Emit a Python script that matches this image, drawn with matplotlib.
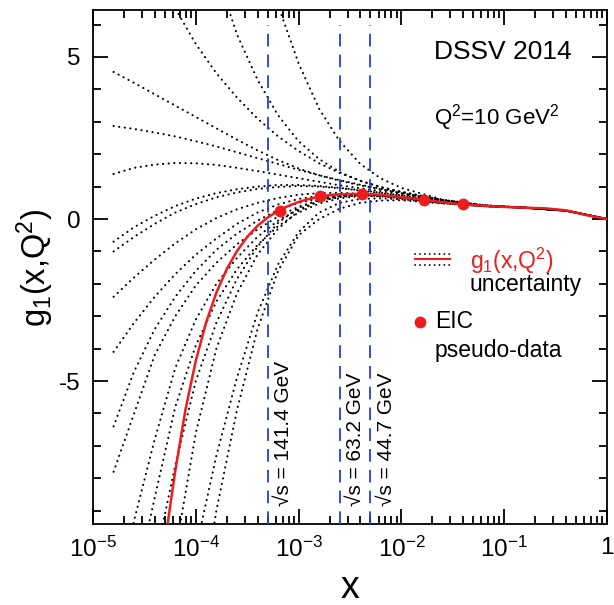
import numpy as np
import matplotlib
matplotlib.use("Agg")
import matplotlib.pyplot as plt
from matplotlib.ticker import MultipleLocator, LogLocator, NullFormatter

plt.rcParams['font.family'] = ['Liberation Sans', 'DejaVu Sans']
plt.rcParams['mathtext.fontset'] = 'custom'
plt.rcParams['mathtext.rm'] = 'Liberation Sans'
plt.rcParams['mathtext.it'] = 'Liberation Sans:italic'
plt.rcParams['mathtext.default'] = 'regular'
plt.rcParams['axes.unicode_minus'] = False

grid_logx = [-4.8, -4.6, -4.4, -4.2, -4.0, -3.8, -3.6, -3.4, -3.2, -3.0,
             -2.8, -2.6, -2.4, -2.2, -2.0, -1.6, -1.2, -0.8, -0.4, 0.0]

# dotted curves (None = outside the plotted range)
unc_a = [4.54, 4.2, 3.85, 3.5, 3.15, 2.8, 2.45, 2.12, 1.82, 1.56, 1.35, 1.18, 1.04, 0.92, 0.8, 0.58, 0.42, 0.35, 0.26, 0.0]
unc_b = [2.87, 2.78, 2.67, 2.55, 2.4, 2.24, 2.06, 1.88, 1.7, 1.52, 1.35, 1.2, 1.06, 0.93, 0.81, 0.58, 0.42, 0.35, 0.26, 0.0]
unc_c = [1.39, 1.58, 1.68, 1.73, 1.72, 1.67, 1.58, 1.48, 1.37, 1.26, 1.15, 1.04, 0.95, 0.86, 0.77, 0.57, 0.42, 0.35, 0.26, 0.0]
unc_d = [11.0, 9.3, 7.8, 6.5, 5.4, 4.5, 3.75, 3.1, 2.55, 2.1, 1.72, 1.42, 1.18, 0.99, 0.84, 0.59, 0.42, 0.35, 0.26, 0.0]
unc_e = [None, None, 14.5, 12.0, 9.8, 7.6, 5.7, 4.3, 3.2, 2.4, 1.85, 1.45, 1.18, 0.98, 0.84, 0.59, 0.42, 0.35, 0.26, 0.0]
unc_f = [None, None, None, None, 16.0, 13.0, 10.8, 8.6, 6.6, 4.8, 3.4, 2.4, 1.7, 1.25, 0.96, 0.6, 0.43, 0.35, 0.26, 0.0]
unc_g = [-0.7, -0.25, 0.1, 0.4, 0.63, 0.8, 0.92, 1.0, 1.05, 1.05, 1.02, 0.96, 0.89, 0.81, 0.73, 0.55, 0.41, 0.35, 0.26, 0.0]
unc_h = [-1.0, -0.55, -0.15, 0.2, 0.46, 0.67, 0.82, 0.93, 0.99, 1.02, 1.0, 0.95, 0.88, 0.8, 0.72, 0.55, 0.41, 0.35, 0.26, 0.0]
unc_i = [-2.4, -1.8, -1.25, -0.75, -0.32, 0.03, 0.3, 0.5, 0.65, 0.75, 0.8, 0.81, 0.78, 0.73, 0.67, 0.53, 0.4, 0.35, 0.26, 0.0]
unc_j = [-4.1, -3.2, -2.4, -1.7, -1.1, -0.6, -0.15, 0.2, 0.45, 0.62, 0.72, 0.77, 0.77, 0.73, 0.67, 0.52, 0.4, 0.35, 0.26, 0.0]
unc_k = [-6.4, -4.7, -3.4, -2.4, -1.6, -0.95, -0.45, -0.05, 0.28, 0.5, 0.64, 0.72, 0.75, 0.72, 0.66, 0.51, 0.4, 0.35, 0.26, 0.0]
unc_l = [-7.8, -6.0, -4.2, -3.0, -2.05, -1.35, -0.78, -0.32, 0.08, 0.38, 0.58, 0.7, 0.74, 0.72, 0.66, 0.51, 0.4, 0.35, 0.26, 0.0]
unc_m = [-12.5, -9.3, -6.8, -4.6, -3.1, -2.0, -1.2, -0.55, -0.05, 0.3, 0.55, 0.68, 0.73, 0.71, 0.65, 0.5, 0.4, 0.35, 0.26, 0.0]
unc_n = [None, -11.5, -8.6, -5.8, -3.9, -2.55, -1.55, -0.8, -0.22, 0.2, 0.48, 0.64, 0.71, 0.7, 0.64, 0.5, 0.4, 0.35, 0.26, 0.0]
unc_r = [None, None, -10.6, -7.6, -5.0, -3.2, -1.85, -0.85, -0.12, 0.35, 0.6, 0.72, 0.76, 0.73, 0.66, 0.5, 0.4, 0.35, 0.26, 0.0]
unc_s = [None, None, None, -10.3, -6.6, -4.0, -2.3, -1.1, -0.3, 0.25, 0.55, 0.7, 0.75, 0.72, 0.65, 0.5, 0.4, 0.35, 0.26, 0.0]
unc_p = [None, None, None, None, -10.2, -7.3, -4.9, -2.9, -1.4, -0.4, 0.2, 0.5, 0.62, 0.64, 0.61, 0.49, 0.4, 0.35, 0.26, 0.0]
unc_q = [None, None, None, None, -13.0, -9.0, -5.9, -3.4, -1.6, -0.5, 0.0, 0.32, 0.5, 0.57, 0.58, 0.48, 0.4, 0.35, 0.26, 0.0]

# central g1 curve
red_logx = [-4.28, -4.2, -4.1, -4.0, -3.9, -3.8, -3.7, -3.6, -3.5, -3.4, -3.3, -3.2, -3.1, -3.0,
            -2.9, -2.8, -2.7, -2.6, -2.5, -2.4, -2.3, -2.2, -2.0, -1.8, -1.6, -1.4, -1.2, -1.0,
            -0.8, -0.6, -0.4, -0.2, 0.0]
red_g1 = [-9.53, -7.77, -5.87, -4.37, -3.19, -2.27, -1.55, -0.99, -0.55, -0.21, 0.05, 0.25, 0.405, 0.525,
          0.62, 0.69, 0.735, 0.76, 0.772, 0.775, 0.765, 0.745, 0.67, 0.6, 0.52, 0.45, 0.41, 0.375,
          0.35, 0.33, 0.27, 0.12, 0.0]

# EIC pseudo-data
eic_x = [6.6e-4, 1.6e-3, 4.1e-3, 1.65e-2, 4.0e-2]
eic_g1 = [0.25, 0.70, 0.77, 0.60, 0.45]

# sqrt(s) kinematic limits
cut_x = [5e-4, 2.5e-3, 5e-3]
cut_labels = ['\u221as = 141.4 GeV', '\u221as = 63.2 GeV', '\u221as = 44.7 GeV']

fig = plt.figure(figsize=(6.14, 6.05), dpi=100)
ax = fig.add_axes([93 / 614, 1 - 524 / 605, 514 / 614, 514 / 605])

x_grid = 10.0 ** np.array(grid_logx)
dotted = (0, (0.1, 2.6))
for c in [unc_a, unc_b, unc_c, unc_d, unc_e, unc_f, unc_g, unc_h, unc_i,
          unc_j, unc_k, unc_l, unc_m, unc_n, unc_r, unc_s, unc_p, unc_q]:
    ax.plot(x_grid, np.array(c, dtype=float), color='black', lw=1.5,
            linestyle=dotted, dash_capstyle='round', zorder=2)

for xc, lab in zip(cut_x, cut_labels):
    ax.plot([xc, xc], [-9.41, 6.0], color='#1f3fe0', lw=1.3, linestyle=(0, (7, 4.5)), zorder=3)
    ax.text(xc * 1.43, -8.85, lab, rotation=90, ha='center', va='bottom', fontsize=15)

ax.plot(10.0 ** np.array(red_logx), red_g1, color='#ee1c1c', lw=1.8, zorder=4)
ax.plot(eic_x, eic_g1, 'o', color='#ee1c1c', markersize=8.5, markeredgewidth=0, zorder=5)

ax.set_xscale('log')
ax.set_xlim(1e-5, 1)
ax.set_ylim(-9.41, 6.45)
ax.set_xticks([1e-5, 1e-4, 1e-3, 1e-2, 1e-1, 1])
ax.set_xticklabels(['$10^{-5}$', '$10^{-4}$', '$10^{-3}$', '$10^{-2}$', '$10^{-1}$', '1'])
ax.xaxis.set_minor_locator(LogLocator(base=10, subs=np.arange(2, 10), numticks=20))
ax.xaxis.set_minor_formatter(NullFormatter())
ax.set_yticks([-5, 0, 5])
ax.yaxis.set_minor_locator(MultipleLocator(1))
ax.tick_params(which='both', direction='in', top=True, right=True, width=1.3)
ax.tick_params(which='major', length=11, labelsize=17.5, pad=9)
ax.tick_params(which='minor', length=5.5)
for sp in ax.spines.values():
    sp.set_linewidth(1.3)

ax.text(0.5, -0.125, 'x', transform=ax.transAxes, ha='center', va='center', fontsize=27)
ax.text(-0.113, 0.498, 'g$_1$(x,Q$^2$)', transform=ax.transAxes, rotation=90,
        ha='center', va='center', fontsize=23.5)

ax.text(0.798, 0.918, 'DSSV 2014', transform=ax.transAxes, ha='center', va='center', fontsize=19)
ax.text(0.786, 0.790, 'Q$^2$=10 GeV$^2$', transform=ax.transAxes, ha='center', va='center', fontsize=16)

# hand-made legend
ax.plot([0.626, 0.695], [0.525, 0.525], transform=ax.transAxes, color='black', lw=1.3,
        linestyle=dotted, dash_capstyle='round')
ax.plot([0.626, 0.695], [0.504, 0.504], transform=ax.transAxes, color='black', lw=1.3,
        linestyle=dotted, dash_capstyle='round')
ax.plot([0.626, 0.695], [0.5146, 0.5146], transform=ax.transAxes, color='#ee1c1c', lw=1.5)
ax.text(0.733, 0.512, 'g$_1$(x,Q$^2$)', transform=ax.transAxes, ha='left', va='center',
        fontsize=16.5, color='#ee1c1c')
ax.text(0.733, 0.465, 'uncertainty', transform=ax.transAxes, ha='left', va='center', fontsize=16.5)
ax.plot([0.636], [0.393], 'o', transform=ax.transAxes, color='#ee1c1c', markersize=8.5,
        markeredgewidth=0)
ax.text(0.665, 0.393, 'EIC', transform=ax.transAxes, ha='left', va='center', fontsize=16.5)
ax.text(0.665, 0.338, 'pseudo-data', transform=ax.transAxes, ha='left', va='center', fontsize=16.5)

fig.savefig('out.png', dpi=100)
